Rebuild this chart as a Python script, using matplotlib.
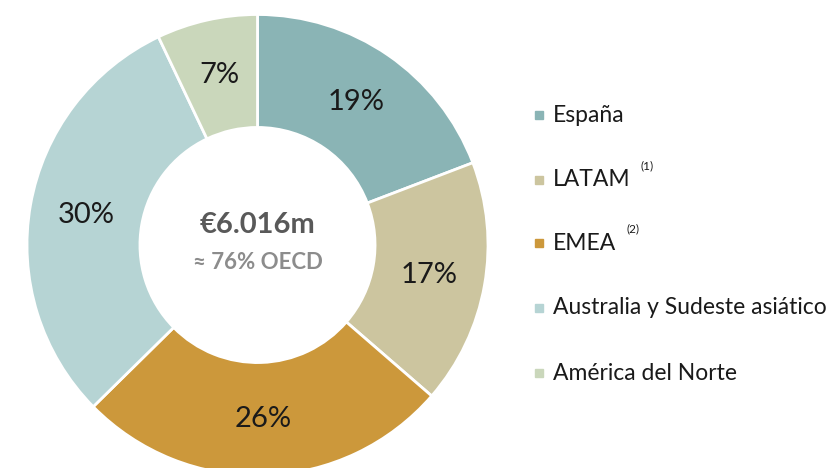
import matplotlib
matplotlib.use('Agg')
import matplotlib.pyplot as plt
from matplotlib.patches import Rectangle

plt.rcParams['font.family'] = ['Lato', 'DejaVu Sans']

# data
regions = ['España', 'LATAM', 'EMEA', 'Australia y Sudeste asiático', 'América del Norte']
shares = [19, 17, 26, 30, 7]
notes = ['', '(1)', '(2)', '', '']
colors = ['#8AB4B5', '#CCC59F', '#CC983B', '#B6D4D4', '#CAD7BB']
total_label = '€6.016m'
oecd_label = '≈ 76% OECD'

W, H = 834, 468
fig = plt.figure(figsize=(W / 100, H / 100), dpi=100)

# donut: centre ~ (257.5, 245) px, outer radius ~230 px
cx, cy, r = 257.5, 245, 230.5
ax = fig.add_axes([(cx - r) / W, (H - cy - r) / H, 2 * r / W, 2 * r / H])
wedges, texts, autotexts = ax.pie(
    shares, colors=colors, startangle=90, counterclock=False, radius=1,
    wedgeprops=dict(width=0.49, edgecolor='white', linewidth=2),
    autopct=lambda p: '{:.0f}%'.format(p), pctdistance=0.755,
    textprops=dict(fontsize=21, color='#1a1a1a'))
for w in wedges:
    w.set_clip_on(False)
ax.set_xlim(-1, 1)
ax.set_ylim(-1, 1)
ax.set_aspect('equal')
ax.axis('off')

ax.text(0, 0.085, total_label, ha='center', va='center', fontsize=21,
        fontweight='bold', color='#595959')
ax.text(0, -0.075, oecd_label, ha='center', va='center', fontsize=16,
        fontweight='bold', color='#8C8C8C')

# legend, drawn by hand
row_y = [115, 180, 243, 308, 373]
for name, col, note, y in zip(regions, colors, notes, row_y):
    fig.patches.append(Rectangle((535 / W, 1 - (y + 4) / H), 8 / W, 8 / H,
                                 transform=fig.transFigure, color=col))
    t = fig.text(553 / W, 1 - y / H, name, ha='left', va='center',
                 fontsize=16.5, color='#1a1a1a')
    if note:
        fig.canvas.draw()
        bb = t.get_window_extent()
        fig.text((bb.x1 + 10) / W, 1 - (y - 14) / H, note, ha='left',
                 va='center', fontsize=8.5, color='#1a1a1a')

fig.savefig('out.png', dpi=100, facecolor='white')
